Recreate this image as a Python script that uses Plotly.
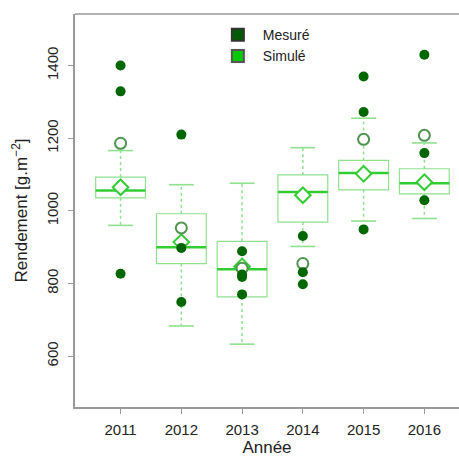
import plotly.graph_objects as go

years = ["2011", "2012", "2013", "2014", "2015", "2016"]
pos = list(range(len(years)))

# Simulated distribution (box)
sim_q1 = [1036, 855, 763, 969, 1058, 1047]
sim_med = [1056, 900, 839, 1052, 1104, 1076]
sim_q3 = [1093, 992, 916, 1099, 1139, 1116]
sim_low = [960, 683, 633, 902, 972, 979]
sim_high = [1166, 1072, 1076, 1174, 1255, 1187]
sim_mean = [1065, 914, 847, 1043, 1102, 1079]

# Measured values
meas_year = [0, 0, 0, 1, 1, 1, 2, 2, 2, 2, 3, 3, 3, 4, 4, 4, 5, 5, 5]
meas_val = [1400, 1329, 827, 1210, 898, 749, 889, 825, 818, 770,
            931, 831, 798, 1370, 1272, 949, 1430, 1159, 1029]
meas_mean = [1186, 953, 842, 855, 1197, 1208]

BOX_W = 0.82
CAP_W = 0.41
light = "#8fe08f"
mid = "#33cc33"
dark = "#006600"
font = "Liberation Sans, Arial, sans-serif"
txt = "#222222"
axcol = "#9a9a9a"

fig = go.Figure()

fig.add_trace(go.Box(
    x=pos, q1=sim_q1, median=sim_med, q3=sim_q3,
    lowerfence=sim_q1, upperfence=sim_q3,
    width=BOX_W, line=dict(color=light, width=1.2),
    fillcolor="rgba(255,255,255,0)", boxpoints=False,
    showlegend=False, hoverinfo="skip"))

# whiskers (dotted)
wx, wy = [], []
for p, lo, q1, q3, hi in zip(pos, sim_low, sim_q1, sim_q3, sim_high):
    wx += [p, p, None, p, p, None]
    wy += [q3, hi, None, q1, lo, None]
fig.add_trace(go.Scatter(x=wx, y=wy, mode="lines",
                         line=dict(color=light, width=1.5, dash="dot"),
                         showlegend=False, hoverinfo="skip"))
# caps
cx, cy = [], []
for p, lo, hi in zip(pos, sim_low, sim_high):
    cx += [p - CAP_W / 2, p + CAP_W / 2, None, p - CAP_W / 2, p + CAP_W / 2, None]
    cy += [hi, hi, None, lo, lo, None]
fig.add_trace(go.Scatter(x=cx, y=cy, mode="lines",
                         line=dict(color=light, width=1.6),
                         showlegend=False, hoverinfo="skip"))
# median
mx, my = [], []
for p, m in zip(pos, sim_med):
    mx += [p - BOX_W / 2, p + BOX_W / 2, None]
    my += [m, m, None]
fig.add_trace(go.Scatter(x=mx, y=my, mode="lines",
                         line=dict(color=mid, width=2.5),
                         showlegend=False, hoverinfo="skip"))
# simulated mean (diamond)
fig.add_trace(go.Scatter(x=pos, y=sim_mean, mode="markers",
                         marker=dict(symbol="diamond", size=12, color="white",
                                     line=dict(color=mid, width=2)),
                         showlegend=False, hoverinfo="skip"))
# measured mean (open circle)
fig.add_trace(go.Scatter(x=pos, y=meas_mean, mode="markers",
                         marker=dict(symbol="circle", size=11, color="white",
                                     line=dict(color="#4f944f", width=2)),
                         showlegend=False, hoverinfo="skip"))
# measured points
fig.add_trace(go.Scatter(x=meas_year, y=meas_val, mode="markers",
                         marker=dict(symbol="circle", size=10, color=dark),
                         showlegend=False, hoverinfo="skip"))

# legend entries
fig.add_trace(go.Scatter(x=[None], y=[None], mode="markers", name="Mesuré",
                         marker=dict(symbol="square", size=11, color="#005a00",
                                     line=dict(color="#333333", width=0.5))))
fig.add_trace(go.Scatter(x=[None], y=[None], mode="markers", name="Simulé",
                         marker=dict(symbol="square", size=11, color="#00cc00",
                                     line=dict(color="#555555", width=0.5))))

axis_common = dict(showgrid=False, zeroline=False, showline=True, linecolor=axcol,
                   linewidth=1.5, ticks="outside", ticklen=5, tickcolor=axcol,
                   automargin=False,
                   tickfont=dict(family=font, size=15, color=txt))

fig.update_layout(
    width=459, height=457,
    margin=dict(l=75, r=0, t=14, b=50),
    paper_bgcolor="white", plot_bgcolor="white",
    font=dict(family=font, size=14, color=txt),
    xaxis=dict(range=[-0.75, 5.57], tickvals=pos, ticktext=years,
               ticklabelstandoff=3,
               title=dict(text="Année", font=dict(family=font, size=17, color=txt),
                          standoff=8),
               **axis_common),
    yaxis=dict(range=[460, 1542], tickvals=[600, 800, 1000, 1200, 1400], tickangle=-90,
               ticklabelstandoff=4,
               title=dict(text="Rendement [g.m<sup>−2</sup>]",
                          font=dict(family=font, size=17, color=txt), standoff=12),
               **axis_common),
    shapes=[dict(type="line", xref="paper", yref="paper", x0=0, x1=1, y0=1, y1=1,
                 line=dict(color=axcol, width=1.5))],
    legend=dict(x=0.359, y=0.987, xanchor="left", yanchor="top",
                bgcolor="rgba(0,0,0,0)", font=dict(family=font, size=14, color=txt),
                itemwidth=40, itemsizing="constant", tracegroupgap=0),
)

fig.write_html("out.html", config={"displayModeBar": False},
               post_script="document.body.style.margin='0';")
